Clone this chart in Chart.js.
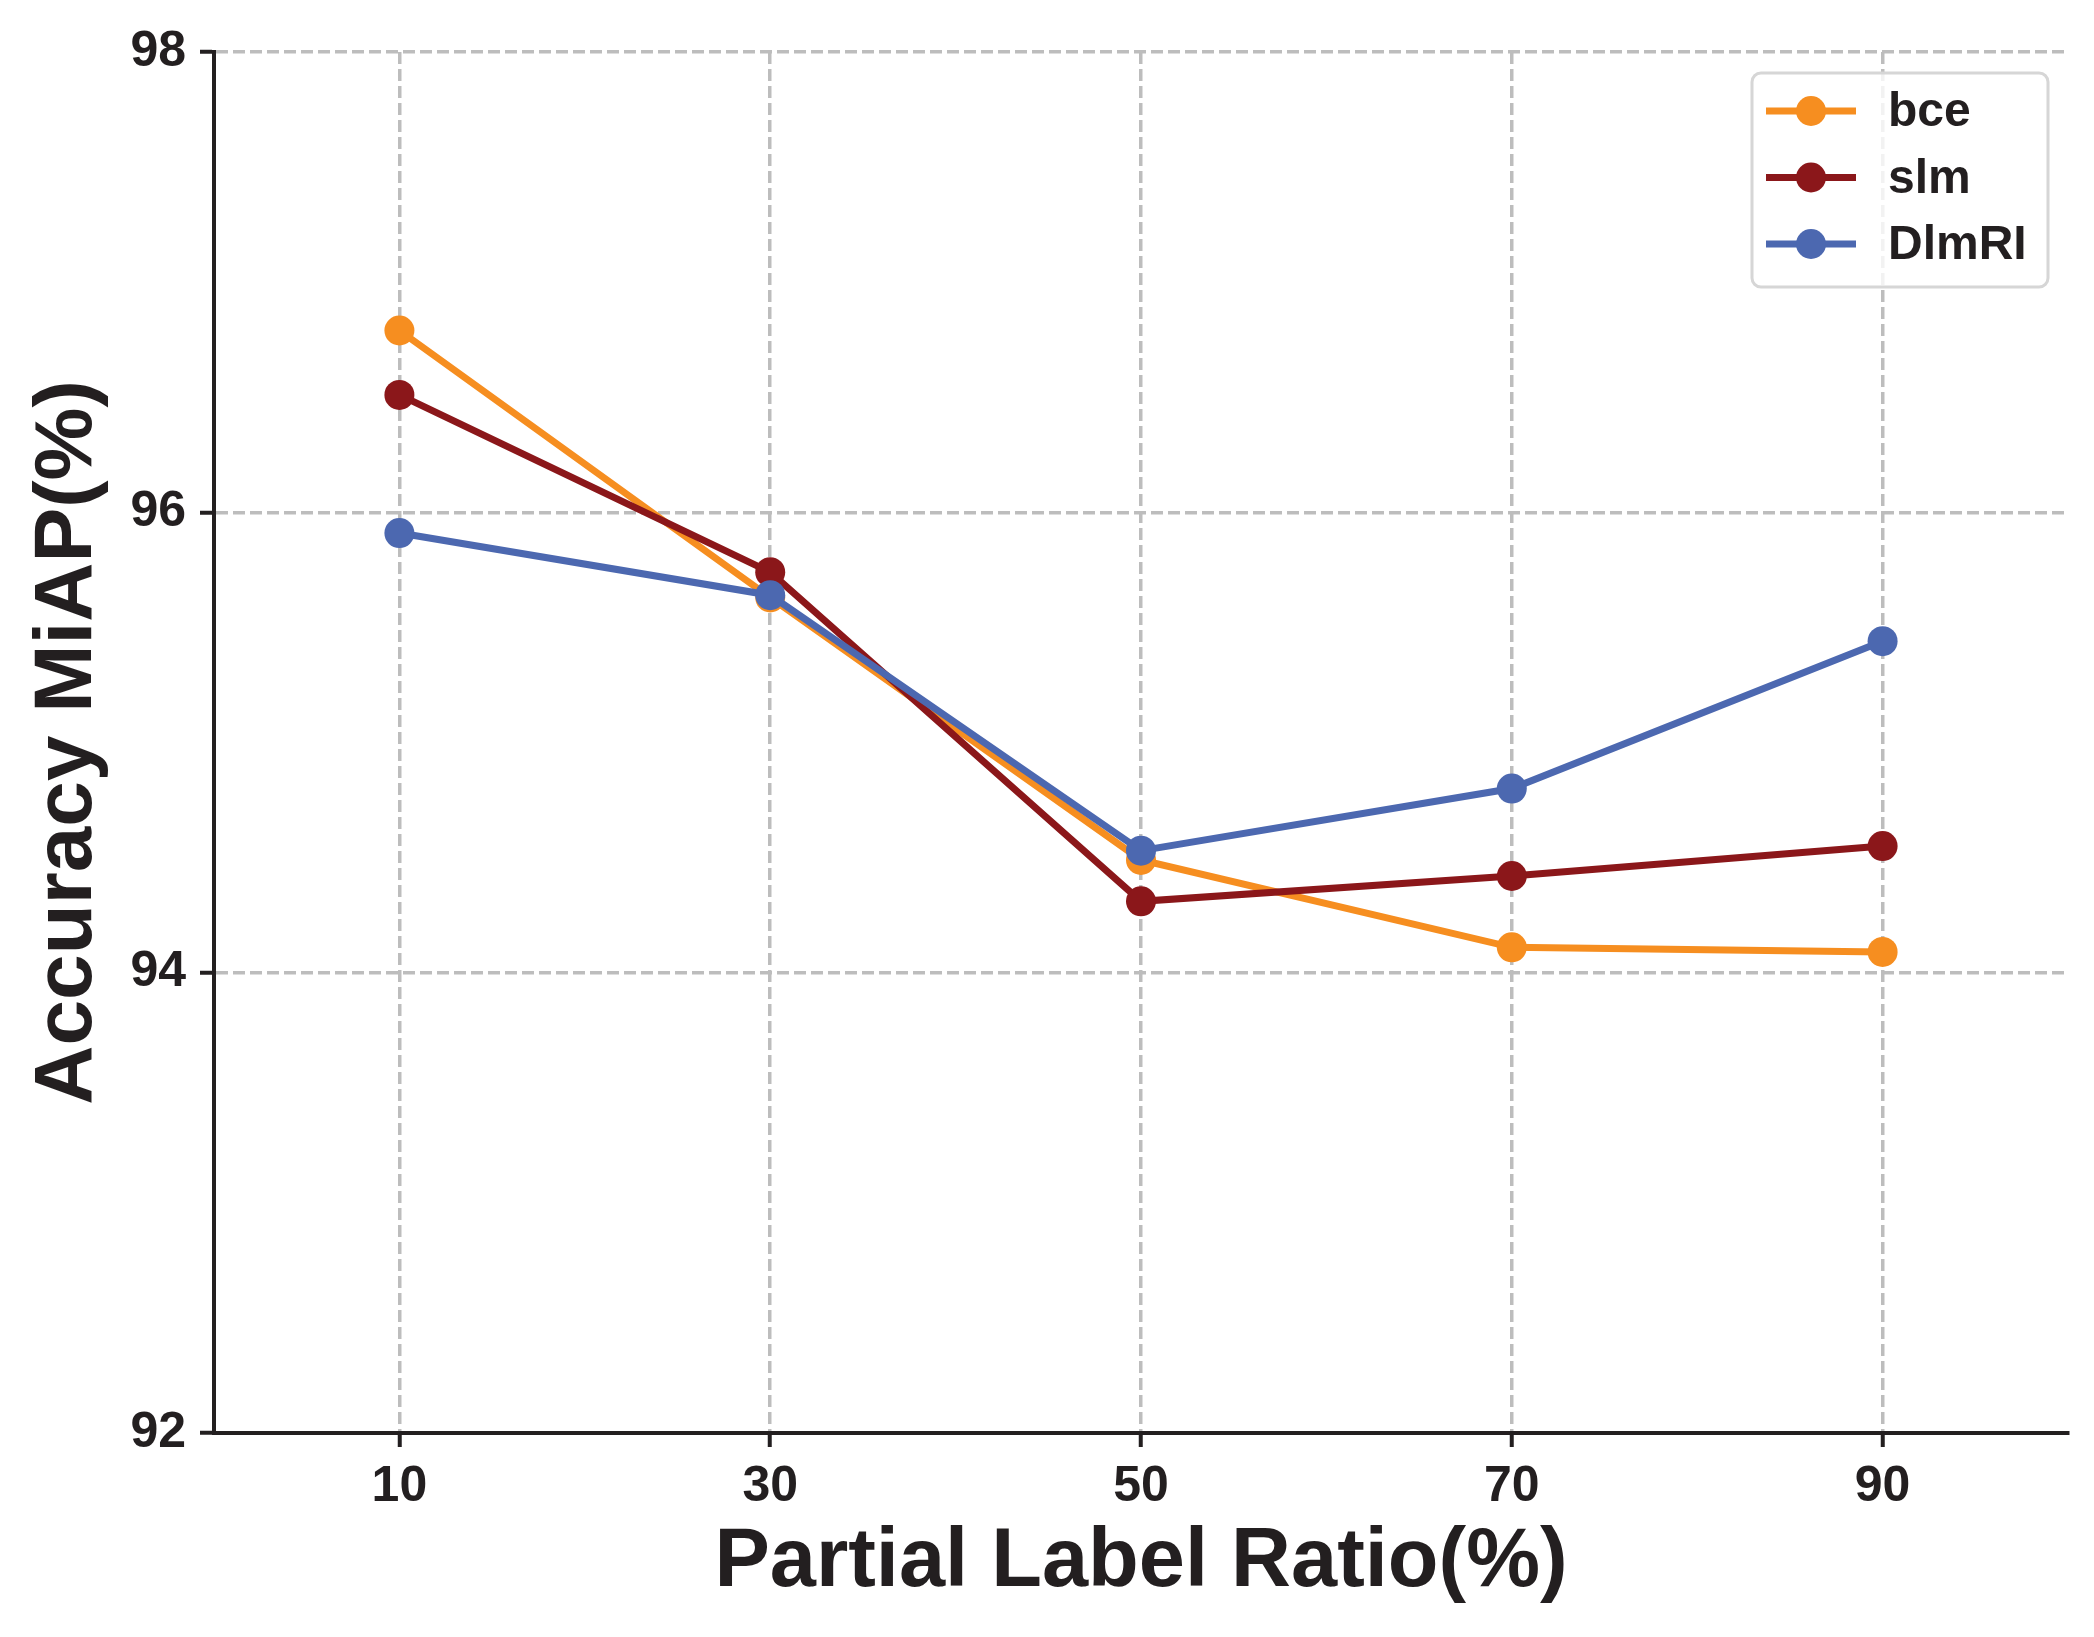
<!DOCTYPE html>
<html>
<head>
<meta charset="utf-8">
<script src="https://cdn.jsdelivr.net/npm/chart.js@4.4.1/dist/chart.umd.min.js"></script>
<style>
  html, body { margin: 0; padding: 0; background: #fff; }
  #wrap { width: 2094px; height: 1637px; }
</style>
</head>
<body>
<div id="wrap"><canvas id="chart" width="2094" height="1637"></canvas></div>
<script>
// data
const ratios = [10, 30, 50, 70, 90];
const bce = [96.79, 95.63, 94.49, 94.11, 94.09];
const slm = [96.51, 95.74, 94.31, 94.42, 94.55];
const dlmri = [95.91, 95.64, 94.53, 94.80, 95.44];
const yTicks = [92, 94, 96, 98];
const seriesNames = ['bce', 'slm', 'DlmRI'];
const seriesColors = ['#f68e20', '#8b171a', '#4c68b0'];

const FONT = '"Liberation Sans", Arial, Helvetica, sans-serif';
const INK = '#231f20';

const toPoints = vals => ratios.map((r, i) => ({ x: r, y: vals[i] }));

// legend drawn inside the plot, top right, like the original
const boxLegend = {
    id: 'boxLegend',
    afterDraw(chart) {
        const ctx = chart.ctx;
        const a = chart.chartArea;
        const w = 296, h = 214;
        const x0 = a.right - 20 - w;
        const y0 = a.top + 21;
        ctx.save();
        ctx.beginPath();
        ctx.roundRect(x0, y0, w, h, 9);
        ctx.fillStyle = 'rgba(255,255,255,0.8)';
        ctx.fill();
        ctx.lineWidth = 3;
        ctx.strokeStyle = '#d6d6d6';
        ctx.stroke();

        chart.data.datasets.forEach((ds, i) => {
            const cy = y0 + 38 + i * 66.5;
            ctx.strokeStyle = ds.borderColor;
            ctx.lineWidth = 7;
            ctx.beginPath();
            ctx.moveTo(x0 + 14, cy);
            ctx.lineTo(x0 + 104, cy);
            ctx.stroke();
            ctx.fillStyle = ds.borderColor;
            ctx.beginPath();
            ctx.arc(x0 + 59, cy, 15, 0, Math.PI * 2);
            ctx.fill();
            ctx.fillStyle = INK;
            ctx.font = 'bold 48px ' + FONT;
            ctx.textBaseline = 'middle';
            ctx.textAlign = 'left';
            ctx.fillText(ds.label, x0 + 136, cy + 2);
        });
        ctx.restore();
    }
};

const datasets = [bce, slm, dlmri].map((vals, i) => ({
    label: seriesNames[i],
    data: toPoints(vals),
    borderColor: seriesColors[i],
    backgroundColor: seriesColors[i],
    borderWidth: 7,
    pointRadius: 15,
    pointHoverRadius: 15,
    pointBorderWidth: 0,
    tension: 0,
    order: 3 - i
}));

new Chart(document.getElementById('chart').getContext('2d'), {
    type: 'line',
    data: { datasets: datasets },
    options: {
        responsive: false,
        animation: false,
        devicePixelRatio: 1,
        layout: { padding: { top: 52, right: 26, left: 0, bottom: 0 } },
        plugins: {
            legend: { display: false },
            tooltip: { enabled: false }
        },
        scales: {
            x: {
                type: 'linear',
                min: 0,
                max: 100,
                afterBuildTicks: s => { s.ticks = ratios.map(v => ({ value: v })); },
                afterFit: s => { s.height = 204; },
                grid: {
                    color: '#bdbdbd',
                    lineWidth: 3.5,
                    tickColor: INK,
                    tickWidth: 4,
                    tickLength: 14
                },
                border: { display: true, color: INK, width: 4, dash: [12, 5] },
                ticks: {
                    color: INK,
                    padding: 10,
                    font: { family: FONT, size: 50, weight: 'bold' }
                },
                title: {
                    display: true,
                    text: 'Partial Label Ratio(%)',
                    color: INK,
                    padding: { top: 0, bottom: 24 },
                    font: { family: FONT, size: 83, weight: 'bold' }
                }
            },
            y: {
                min: 92,
                max: 98,
                afterBuildTicks: s => { s.ticks = yTicks.map(v => ({ value: v })); },
                afterFit: s => { s.width = 214; },
                grid: {
                    color: '#bdbdbd',
                    lineWidth: 3.5,
                    tickColor: INK,
                    tickWidth: 4,
                    tickLength: 14
                },
                border: { display: true, color: INK, width: 4, dash: [12, 5] },
                ticks: {
                    color: INK,
                    padding: 14,
                    font: { family: FONT, size: 50, weight: 'bold' }
                },
                title: {
                    display: true,
                    text: 'Accuracy MiAP(%)',
                    color: INK,
                    padding: { top: 19, bottom: 0 },
                    font: { family: FONT, size: 82, weight: 'bold' }
                }
            }
        }
    },
    plugins: [boxLegend]
});
</script>
</body>
</html>
